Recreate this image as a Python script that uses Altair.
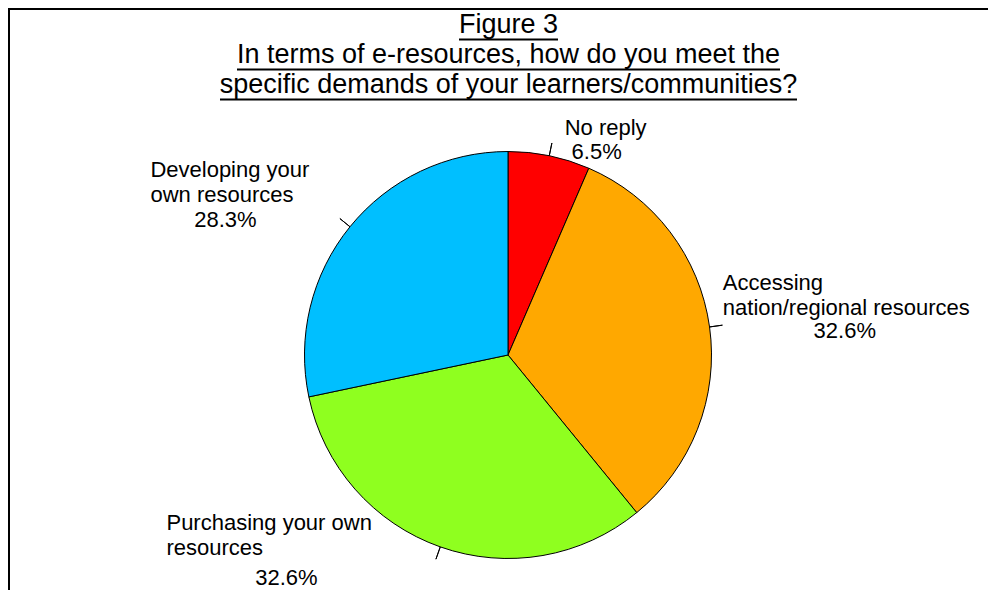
import altair as alt
import pandas as pd

# ---- data ----
categories = ["No reply", "Accessing nation/regional resources",
              "Purchasing your own resources", "Developing your own resources"]
values = [6.5, 32.6, 32.6, 28.3]
name_labels = ["No reply", "Accessing\nnation/regional resources",
               "Purchasing your own\nresources", "Developing your\nown resources"]
pct_labels = ["6.5%", "32.6%", "32.6%", "28.3%"]
colors = ["#FF0000", "#FFA800", "#8FFF1F", "#00BFFF"]
title_lines = ["Figure 3",
               "In terms of e-resources, how do you meet the",
               "specific demands of your learners/communities?"]

df = pd.DataFrame({"category": categories, "value": values, "idx": list(range(len(values))),
                   "name": name_labels, "pct": pct_labels})

# ---- layout / style ----
W, H = 980, 582
CX, CY = 500, 347
R = 203.5
FONT = "Liberation Sans"
LABEL_SIZE = 22
THETA_SCALE = alt.Scale(domain=[0, 100])

# label placement (style): name align, name dx, dy, pct dx, dy
placement = {
    0: ("center", 51, 5, 42, 29),
    1: ("left", -13, -33, 109, 15),
    2: ("left", -265, -42, -145, 13),
    3: ("left", -179, -33, -104, 17),
}

blank = alt.Data(values=[{}])

frame_top = alt.Chart(blank).mark_rule(color="black", strokeWidth=2).encode(
    x=alt.value(0), x2=alt.value(W), y=alt.value(1))
frame_left = alt.Chart(blank).mark_rule(color="black", strokeWidth=2).encode(
    x=alt.value(1), y=alt.value(0), y2=alt.value(H))

title = alt.Chart(blank).mark_text(
    font=FONT, fontSize=27, align="center", baseline="alphabetic", lineHeight=30, color="black"
).encode(x=alt.value(500.5), y=alt.value(25.3), text=alt.value(title_lines))

underline_specs = [(451, 550, 31.5), (229, 772, 61.5), (212, 789, 91.5)]
underlines = [
    alt.Chart(blank).mark_rule(color="black", strokeWidth=2).encode(
        x=alt.value(a), x2=alt.value(b), y=alt.value(yy))
    for a, b, yy in underline_specs
]

pie = alt.Chart(df).mark_arc(radius=R, stroke="black", strokeWidth=1).encode(
    x=alt.value(CX), y=alt.value(CY),
    theta=alt.Theta("value:Q", stack=True, scale=THETA_SCALE),
    order=alt.Order("idx:Q"),
    color=alt.Color("category:N", scale=alt.Scale(domain=categories, range=colors), legend=None),
)

base = alt.Chart(df).transform_window(
    cum="sum(value)", sort=[alt.SortField("idx")], frame=[None, 0]
).transform_calculate(mid="datum.cum - datum.value / 2")

leaders = base.mark_arc(radius=R + 13, radius2=R, stroke="black", strokeWidth=1, fillOpacity=0).encode(
    x=alt.value(CX), y=alt.value(CY),
    theta=alt.Theta("mid:Q", scale=THETA_SCALE, stack=None),
    theta2="mid:Q",
)

label_layers = []
for i, (al, ndx, ndy, pdx, pdy) in placement.items():
    sub = base.transform_filter(alt.datum.idx == i)
    label_layers.append(sub.mark_text(
        radius=230, align=al, baseline="alphabetic", dx=ndx, dy=ndy,
        font=FONT, fontSize=LABEL_SIZE, lineBreak="\n", lineHeight=25, color="black"
    ).encode(x=alt.value(CX), y=alt.value(CY),
             theta=alt.Theta("mid:Q", scale=THETA_SCALE, stack=None), text="name:N"))
    label_layers.append(sub.mark_text(
        radius=230, align="center", baseline="alphabetic", dx=pdx, dy=pdy,
        font=FONT, fontSize=LABEL_SIZE, color="black"
    ).encode(x=alt.value(CX), y=alt.value(CY),
             theta=alt.Theta("mid:Q", scale=THETA_SCALE, stack=None), text="pct:N"))

chart = alt.layer(frame_top, frame_left, title, *underlines, pie, leaders, *label_layers).properties(
    width=W, height=H, padding=0, autosize=alt.AutoSizeParams(type="none"), background="white"
).configure_view(stroke=None)

chart.save("out.html", embed_options={"renderer": "svg", "actions": False})
